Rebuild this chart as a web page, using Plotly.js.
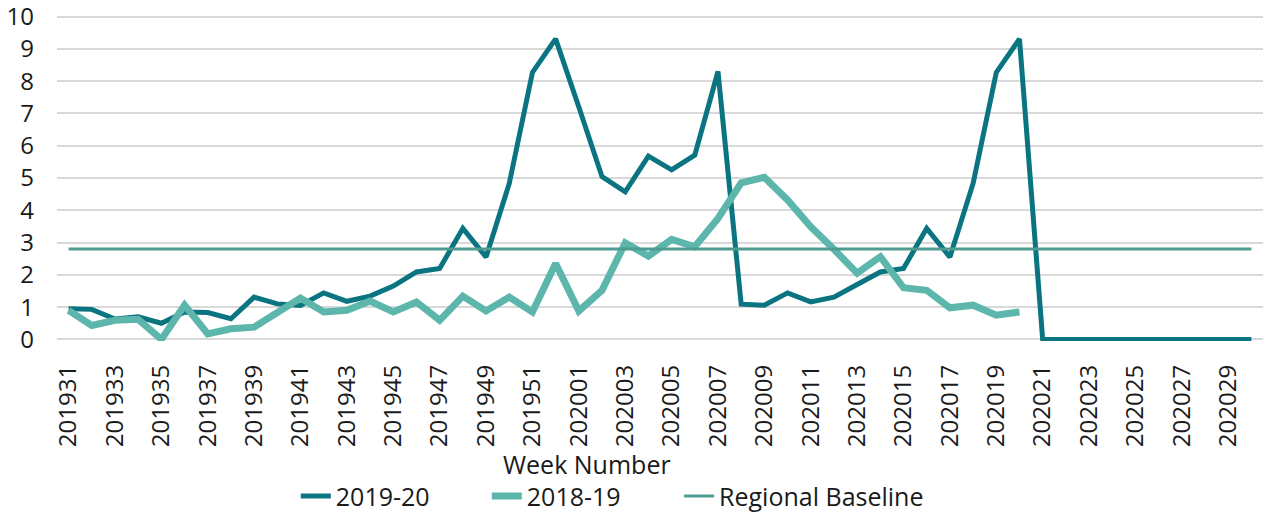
<!DOCTYPE html>
<html>
<head>
<meta charset="utf-8">
<script src="https://cdn.plot.ly/plotly-3.0.1.min.js"></script>
<style>
  html, body { margin: 0; padding: 0; background: #ffffff; }
  #chart { width: 1272px; height: 512px; }
</style>
</head>
<body>
<div id="chart"></div>
<script>
// Week numbers (categories)
var weeks = [
  '201931','201932','201933','201934','201935','201936','201937','201938','201939','201940',
  '201941','201942','201943','201944','201945','201946','201947','201948','201949','201950',
  '201951','201952','202001','202002','202003','202004','202005','202006','202007','202008',
  '202009','202010','202011','202012','202013','202014','202015','202016','202017','202018',
  '202019','202020','202021','202022','202023','202024','202025','202026','202027','202028',
  '202029','202030'
];

// Season 2019-20
var season1920 = [
  0.95, 0.93, 0.63, 0.70, 0.50, 0.85, 0.83, 0.64, 1.31, 1.10,
  1.05, 1.44, 1.18, 1.34, 1.65, 2.09, 2.20, 3.44, 2.55, 4.83,
  8.27, 9.31, 7.20, 5.04, 4.57, 5.68, 5.25, 5.71, 8.30, 1.09,
  1.06, 1.44, 1.16, 1.31, 1.70, 2.09, 2.20, 3.44, 2.55, 4.83,
  8.27, 9.31, 0, 0, 0, 0, 0, 0, 0, 0,
  0, 0
];

// Season 2018-19 (ends at week 2020-10)
var season1819 = [
  0.90, 0.43, 0.59, 0.62, 0.00, 1.06, 0.17, 0.33, 0.38, 0.85,
  1.28, 0.85, 0.90, 1.19, 0.85, 1.16, 0.59, 1.34, 0.88, 1.31,
  0.85, 2.35, 0.88, 1.52, 2.99, 2.58, 3.10, 2.87, 3.75, 4.85,
  5.02, 4.32, 3.49, 2.79, 2.05, 2.56, 1.60, 1.52, 0.98, 1.06,
  0.75, 0.85
];

// Regional baseline (constant across the season)
var baselineWeeks = ['201931', '202030'];
var baselineValues = [2.8, 2.8];

var seriesNames = ['2019-20', '2018-19', 'Regional Baseline'];
var yTickVals = [0, 1, 2, 3, 4, 5, 6, 7, 8, 9, 10];
var xAxisTitle = 'Week Number';

var FONT = 'Open Sans, "Noto Sans", sans-serif';
var TXT = '#1a1a1a';

var traces = [
  {
    x: weeks.slice(0, season1920.length), y: season1920, name: seriesNames[0],
    type: 'scatter', mode: 'lines', legend: 'legend',
    line: { color: '#0a7481', width: 5 }
  },
  {
    x: weeks.slice(0, season1819.length), y: season1819, name: seriesNames[1],
    type: 'scatter', mode: 'lines', legend: 'legend',
    line: { color: '#5db6ab', width: 7 }
  },
  {
    x: baselineWeeks, y: baselineValues, name: seriesNames[2],
    type: 'scatter', mode: 'lines', legend: 'legend2',
    line: { color: '#4f9a91', width: 3 }
  }
];

var legendFont = { family: FONT, size: 25, color: TXT };

var layout = {
  width: 1272, height: 512,
  margin: { l: 57, r: 9, t: 15, b: 171, autoexpand: false },
  paper_bgcolor: '#ffffff', plot_bgcolor: '#ffffff',
  font: { family: FONT, color: TXT, size: 24 },
  showlegend: true,
  legend: {
    orientation: 'h', x: 0.198, xanchor: 'left', y: -0.476, yanchor: 'middle',
    font: legendFont,
    entrywidth: 146, entrywidthmode: 'pixels',
    bgcolor: 'rgba(0,0,0,0)', traceorder: 'normal'
  },
  legend2: {
    orientation: 'h', x: 0.5158, xanchor: 'left', y: -0.476, yanchor: 'middle',
    font: legendFont,
    bgcolor: 'rgba(0,0,0,0)'
  },
  xaxis: {
    type: 'category', categoryorder: 'array', categoryarray: weeks,
    range: [-0.5, weeks.length - 0.5],
    tickmode: 'linear', tick0: 0, dtick: 2,
    tickangle: -90, ticks: '', showgrid: false, zeroline: false,
    showline: false, ticklabelstandoff: 18, automargin: false,
    tickfont: { family: FONT, size: 24, color: TXT }
  },
  yaxis: {
    range: [-0.05, 10.05], tickmode: 'array', tickvals: yTickVals,
    ticktext: yTickVals.map(String),
    showgrid: true, gridcolor: '#d9d9d9', gridwidth: 2,
    zeroline: false, showline: false, ticks: '', ticklabelstandoff: 22,
    automargin: false, ticklabeloverflow: 'allow',
    tickfont: { family: FONT, size: 24, color: TXT }
  },
  annotations: [
    {
      text: xAxisTitle, xref: 'paper', yref: 'paper',
      x: 0.4395, y: -0.378, xanchor: 'center', yanchor: 'middle',
      showarrow: false, font: { family: FONT, size: 25, color: TXT }
    }
  ]
};

Plotly.newPlot('chart', traces, layout, { displayModeBar: false, staticPlot: true });
</script>
</body>
</html>
